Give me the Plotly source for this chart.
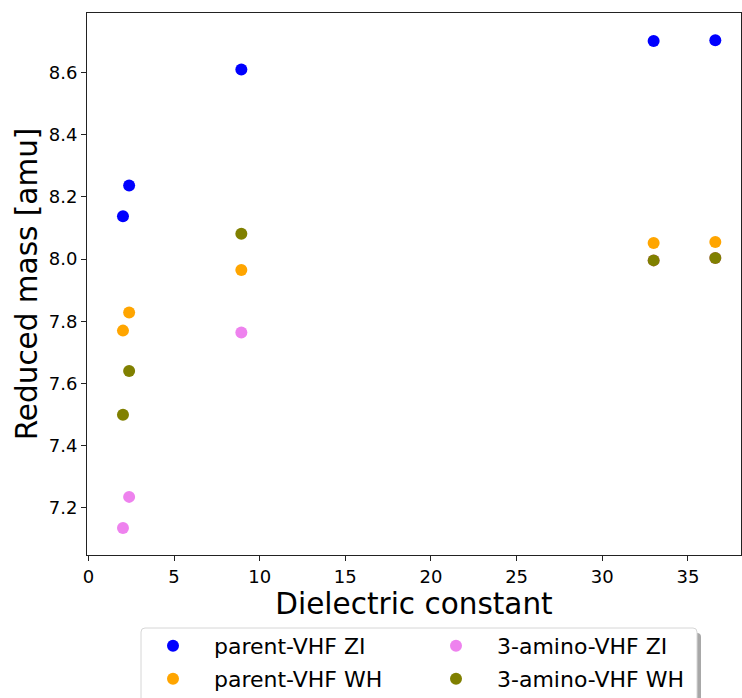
import plotly.graph_objects as go

dielectric = [2.02, 2.38, 8.93, 33.0, 36.6]
parent_zi = [8.138, 8.237, 8.610, 8.702, 8.704]
parent_wh = [7.770, 7.828, 7.965, 8.052, 8.055]
amino_zi = [7.135, 7.235, 7.764, 7.996, 8.004]
amino_wh = [7.499, 7.640, 8.082, 7.996, 8.004]

# (name, values, colour, legend row)
series = [
    ("parent-VHF ZI", parent_zi, "blue", "legend"),
    ("parent-VHF WH", parent_wh, "orange", "legend2"),
    ("3-amino-VHF ZI", amino_zi, "violet", "legend"),
    ("3-amino-VHF WH", amino_wh, "olive", "legend2"),
]

W, H = 742, 698
ml, mr, mt, mb = 87, 1, 13, 143
pw, ph = W - ml - mr, H - mt - mb

NB = "\u00a0" * 3

fig = go.Figure()
for name, vals, color, lg in series:
    fig.add_trace(go.Scatter(
        x=dielectric, y=vals, mode="markers", name=NB + name,
        marker=dict(color=color, size=12, line=dict(width=0)),
        legend=lg,
    ))

font = "DejaVu Sans"
axis_common = dict(
    showline=True, mirror=True, linecolor="#222", linewidth=1,
    ticks="outside", ticklen=5, tickwidth=1, tickcolor="#222",
    showgrid=False, zeroline=False, automargin=False,
    tickfont=dict(family=font, size=18, color="black"),
)

# legend frame in pixels
box_l, box_t, box_r, box_b = 141, 628, 697, 730
row1_top, row2_top = 625, 658
lg_x = 153


def px_x(p):
    return (p - ml) / pw


def px_y(p):
    return (mt + ph - p) / ph


def rounded_rect(l, t, r, b, rad):
    pts = []
    X = px_x
    Y = px_y
    path = (
        f"M {X(l + rad)} {Y(t)} L {X(r - rad)} {Y(t)} "
        f"Q {X(r)} {Y(t)} {X(r)} {Y(t + rad)} "
        f"L {X(r)} {Y(b - rad)} Q {X(r)} {Y(b)} {X(r - rad)} {Y(b)} "
        f"L {X(l + rad)} {Y(b)} Q {X(l)} {Y(b)} {X(l)} {Y(b - rad)} "
        f"L {X(l)} {Y(t + rad)} Q {X(l)} {Y(t)} {X(l + rad)} {Y(t)} Z"
    )
    return path


legend_common = dict(
    orientation="h",
    xref="container", yref="container",
    x=lg_x / W, xanchor="left", yanchor="top",
    entrywidth=238, entrywidthmode="pixels",
    font=dict(family=font, size=22, color="black"),
    bgcolor="rgba(0,0,0,0)", borderwidth=0,
    traceorder="normal",
)

fig.update_layout(
    width=W, height=H,
    margin=dict(l=ml, r=mr, t=mt, b=mb, autoexpand=False),
    paper_bgcolor="white", plot_bgcolor="white",
    font=dict(family=font, color="black"),
    xaxis=dict(range=[-0.08, 38.1], dtick=5, tick0=0,
               title=dict(text="Dielectric constant", font=dict(family=font, size=29.5), standoff=2),
               **axis_common),
    yaxis=dict(range=[7.048, 8.792], dtick=0.2, tick0=7.2, tickformat=".1f",
               title=dict(text="Reduced mass [amu]", font=dict(family=font, size=29.5), standoff=2),
               **axis_common),
    showlegend=True,
    legend=dict(y=1 - row1_top / H, **legend_common),
    legend2=dict(y=1 - row2_top / H, **legend_common),
    shapes=[
        dict(type="path", xref="paper", yref="paper",
             path=rounded_rect(box_l + 4, box_t + 5, box_r + 4, box_b + 4, 4),
             fillcolor="#a8a8a8", line=dict(width=0), layer="above"),
        dict(type="path", xref="paper", yref="paper",
             path=rounded_rect(box_l, box_t, box_r, box_b, 4),
             fillcolor="white", line=dict(width=1, color="#d6d6d6"), layer="above"),
    ],
)

fig.write_html("out.html")
